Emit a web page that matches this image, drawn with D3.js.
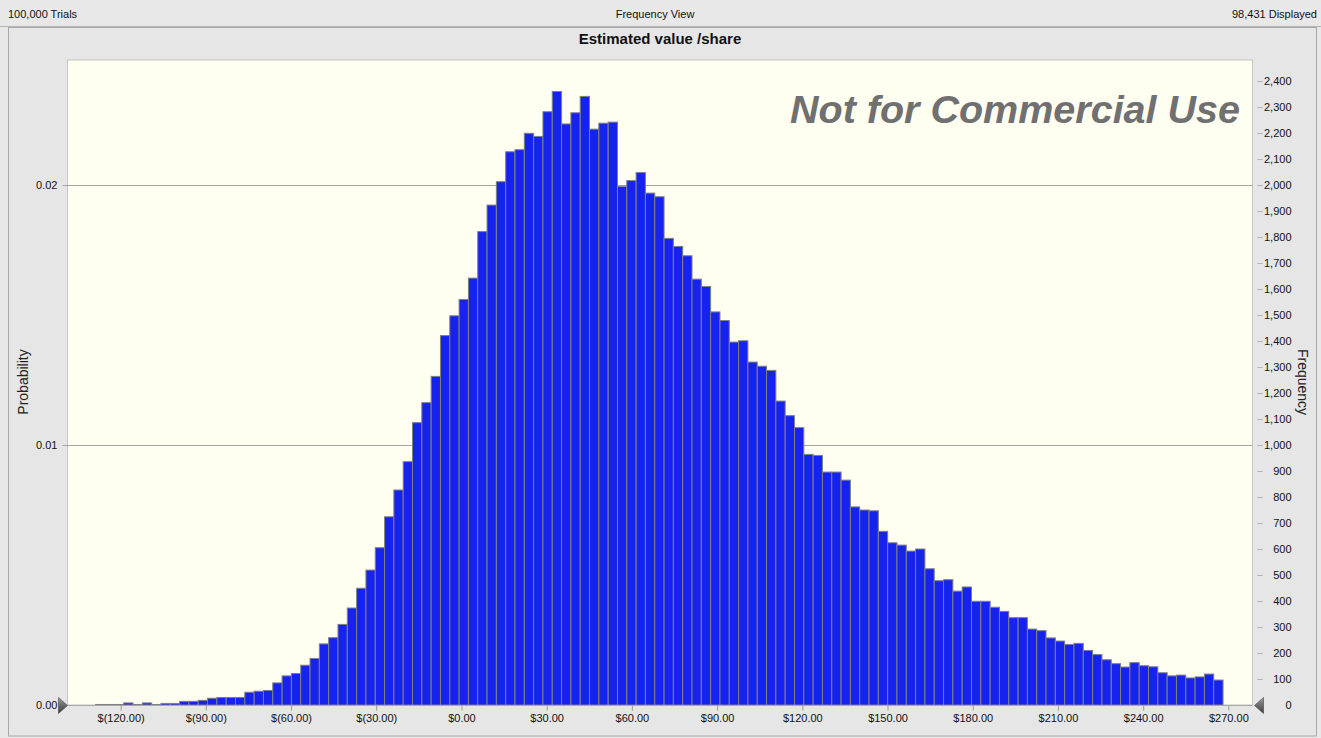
<!DOCTYPE html>
<html>
<head>
<meta charset="utf-8">
<script src="https://cdn.jsdelivr.net/npm/d3@7/dist/d3.min.js"></script>
<style>
  html, body { margin: 0; padding: 0; background: #e8e8e8; }
  svg { display: block; font-family: "Liberation Sans", Arial, sans-serif; }
</style>
</head>
<body>
<svg id="chart" width="1321" height="738"></svg>
<script>
// ---------------- data ----------------
const totalTrials = 100000;
const headerLeft = "100,000 Trials";
const headerCenter = "Frequency View";
const headerRight = "98,431 Displayed";
const chartTitle = "Estimated value /share";
const watermark = "Not for Commercial Use";

// histogram bins ($ per share)
const binStart = -128.75;
const binWidth = 3.28;
const frequencies = [
  2, 2, 2, 8, 2, 8, 2, 6, 6, 14,
  14, 18, 26, 29, 29, 29, 49, 53, 56, 85,
  112, 121, 153, 179, 235, 259, 310, 373, 449, 519,
  605, 724, 827, 936, 1086, 1163, 1264, 1421, 1497, 1560,
  1642, 1821, 1923, 2013, 2128, 2136, 2199, 2187, 2282, 2360,
  2235, 2278, 2341, 2215, 2238, 2242, 1994, 2017, 2048, 1969,
  1955, 1795, 1764, 1728, 1638, 1610, 1512, 1479, 1396, 1401,
  1319, 1303, 1287, 1169, 1113, 1067, 964, 960, 896, 896,
  865, 762, 750, 747, 668, 624, 615, 592, 600, 524,
  478, 482, 438, 454, 399, 399, 376, 360, 336, 336,
  292, 286, 258, 246, 233, 237, 210, 194, 174, 159,
  146, 163, 151, 147, 124, 112, 115, 104, 108, 119,
  96
];
const xTickValues = [-120, -90, -60, -30, 0, 30, 60, 90, 120, 150, 180, 210, 240, 270];
const probTickValues = [0, 0.01, 0.02];
const probTickLabels = ["0.00", "0.01", "0.02"];
const freqTickValues = [0, 100, 200, 300, 400, 500, 600, 700, 800, 900, 1000, 1100, 1200,
  1300, 1400, 1500, 1600, 1700, 1800, 1900, 2000, 2100, 2200, 2300, 2400];
const xDomain = [-138.7, 278.5];
const freqMax = 2481;

// ---------------- layout ----------------
const plot = { left: 67.5, right: 1252.5, top: 60, bottom: 705 };
const svg = d3.select("#chart");

const x = d3.scaleLinear().domain(xDomain).range([plot.left, plot.right]);
const yF = d3.scaleLinear().domain([0, freqMax]).range([plot.bottom, plot.top]);
const yP = d3.scaleLinear().domain([0, freqMax / totalTrials]).range([plot.bottom, plot.top]);

// background
svg.append("rect").attr("width", 1321).attr("height", 738).attr("fill", "#e8e8e8");
// header separator
svg.append("line").attr("x1", 0).attr("x2", 1321).attr("y1", 26.5).attr("y2", 26.5)
  .attr("stroke", "#b4b4b4");
// panel
svg.append("rect").attr("x", 8.5).attr("y", 27.5).attr("width", 1308).attr("height", 708.5)
  .attr("fill", "#e6e6e6").attr("stroke", "#a8a8a8");

// header texts
svg.append("text").attr("x", 8).attr("y", 18).attr("font-size", 11).attr("fill", "#111").text(headerLeft);
svg.append("text").attr("x", 655).attr("y", 18).attr("font-size", 11).attr("fill", "#111")
  .attr("text-anchor", "middle").text(headerCenter);
svg.append("text").attr("x", 1317).attr("y", 18).attr("font-size", 11).attr("fill", "#111")
  .attr("text-anchor", "end").text(headerRight);

// title
svg.append("text").attr("x", 660).attr("y", 44).attr("font-size", 15).attr("font-weight", "bold")
  .attr("fill", "#111").attr("text-anchor", "middle").text(chartTitle);

// plot background
svg.append("rect").attr("x", plot.left).attr("y", plot.top)
  .attr("width", plot.right - plot.left).attr("height", plot.bottom - plot.top)
  .attr("fill", "#fefef1").attr("stroke", "#c4c4c4");

// gridlines (probability)
svg.append("g").selectAll("line").data(probTickValues.filter(d => d > 0)).join("line")
  .attr("x1", plot.left - 5).attr("x2", plot.right)
  .attr("y1", d => Math.round(yP(d)) + 0.5).attr("y2", d => Math.round(yP(d)) + 0.5)
  .attr("stroke", "#a4a4a0").attr("stroke-width", 1.2);

// watermark
svg.append("text").attr("x", 1240).attr("y", 122.5).attr("font-size", 39.5)
  .attr("font-weight", "bold").attr("font-style", "italic").attr("fill", "#707070")
  .attr("text-anchor", "end").text(watermark);

// bars
const bins = frequencies.map((f, i) => ({ x0: binStart + i * binWidth, x1: binStart + (i + 1) * binWidth, f }));
svg.append("g").selectAll("rect").data(bins).join("rect")
  .attr("x", d => x(d.x0))
  .attr("width", d => x(d.x1) - x(d.x0))
  .attr("y", d => yF(d.f))
  .attr("height", d => yF(0) - yF(d.f))
  .attr("fill", "#1622ee")
  .attr("stroke", "#808080")
  .attr("stroke-width", 1);

// baseline
svg.append("line").attr("x1", plot.left).attr("x2", plot.right)
  .attr("y1", plot.bottom + 0.5).attr("y2", plot.bottom + 0.5).attr("stroke", "#a8a8a8");

// x axis
const fmtX = v => v < 0 ? "$(" + Math.abs(v).toFixed(2) + ")" : "$" + v.toFixed(2);
const xAxis = d3.axisBottom(x).tickValues(xTickValues).tickFormat(fmtX).tickSize(5).tickPadding(4);
const gx = svg.append("g").attr("transform", `translate(0,${plot.bottom + 0.5})`).call(xAxis);
gx.select(".domain").remove();
gx.selectAll("line").attr("stroke", "#9a9a9a");
gx.selectAll("text").attr("font-size", 11).attr("fill", "#111").attr("font-family", "Liberation Sans, Arial, sans-serif");

// left (probability) axis
const yAxisL = d3.axisLeft(yP).tickValues(probTickValues).tickFormat((d, i) => probTickLabels[i])
  .tickSize(0).tickPadding(10);
const gl = svg.append("g").attr("transform", `translate(${plot.left},0)`).call(yAxisL);
gl.select(".domain").remove();
gl.selectAll("text").attr("font-size", 11).attr("fill", "#111").attr("font-family", "Liberation Sans, Arial, sans-serif");

// right (frequency) axis
const yAxisR = d3.axisRight(yF).tickValues(freqTickValues).tickFormat(d3.format(",")).tickSize(0);
const gr = svg.append("g").attr("transform", `translate(${plot.right},0)`).call(yAxisR);
gr.select(".domain").remove();
gr.selectAll(".tick").append("line").attr("x1", 5).attr("x2", 10).attr("stroke", "#b0b0b0");
gr.selectAll("text").attr("x", 39).attr("text-anchor", "end").attr("font-size", 11)
  .attr("fill", "#111").attr("font-family", "Liberation Sans, Arial, sans-serif");

// axis titles
svg.append("text").attr("transform", "translate(28,382) rotate(-90)").attr("text-anchor", "middle")
  .attr("font-size", 14).attr("fill", "#222").text("Probability");
svg.append("text").attr("transform", "translate(1298,382) rotate(90)").attr("text-anchor", "middle")
  .attr("font-size", 14).attr("fill", "#222").text("Frequency");

// range markers (triangles)
const grad = svg.append("defs").append("linearGradient").attr("id", "tri").attr("x1", 0).attr("y1", 0).attr("x2", 0).attr("y2", 1);
grad.append("stop").attr("offset", "0%").attr("stop-color", "#9a9a9a");
grad.append("stop").attr("offset", "100%").attr("stop-color", "#3c3c3c");
const yb = plot.bottom + 0.5;
svg.append("path").attr("d", `M${plot.left - 9},${yb - 8} L${plot.left},${yb} L${plot.left - 9},${yb + 8} Z`)
  .attr("fill", "url(#tri)").attr("stroke", "#444").attr("stroke-width", 0.6);
svg.append("path").attr("d", `M${plot.right + 11},${yb - 8} L${plot.right + 2},${yb} L${plot.right + 11},${yb + 8} Z`)
  .attr("fill", "url(#tri)").attr("stroke", "#444").attr("stroke-width", 0.6);
</script>
</body>
</html>
